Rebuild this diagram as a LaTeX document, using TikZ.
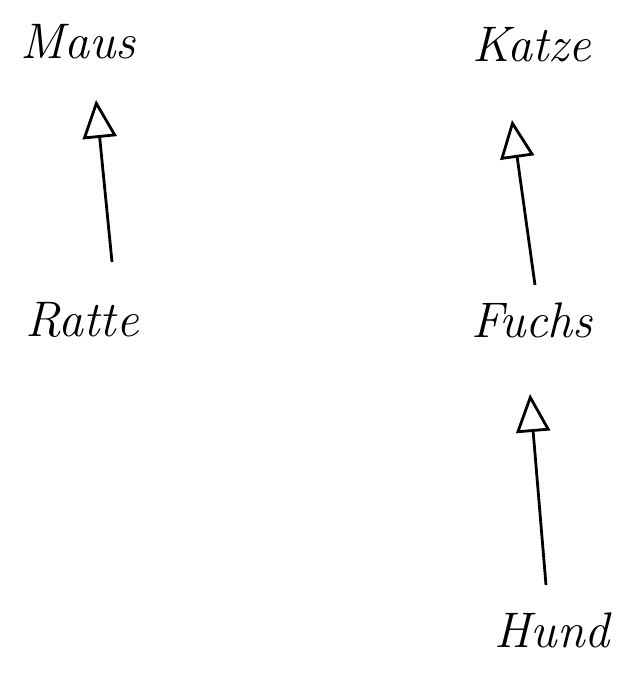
\documentclass[tikz,border=0pt]{standalone}
\usetikzlibrary{arrows.meta}
\begin{document}
\begin{tikzpicture}[x=1pt,y=-1pt,
  word/.style={font=\fontsize{50}{56}\selectfont\itshape, inner sep=0pt},
  link/.style={line width=2.8pt, -{Triangle[open,length=38pt,width=34pt]}}]
  \useasboundingbox (0,0) rectangle (627,677);
  % animal names
  \node[word] (maus)  at (78,42)   {Maus};
  \node[word] (katze) at (532,45)  {Katze};
  \node[word] (ratte) at (82,320)  {Ratte};
  \node[word] (fuchs) at (532,320) {Fuchs};
  \node[word] (hund)  at (552,630) {Hund};
  % arrow end points
  \coordinate (r0) at (112,262);  \coordinate (m0) at (96,100);
  \coordinate (f0) at (535,285);  \coordinate (k0) at (512,120);
  \coordinate (h0) at (546,585);  \coordinate (f1) at (530,394);
  \draw[link] (r0) -- (m0);
  \draw[link] (f0) -- (k0);
  \draw[link] (h0) -- (f1);
\end{tikzpicture}
\end{document}
